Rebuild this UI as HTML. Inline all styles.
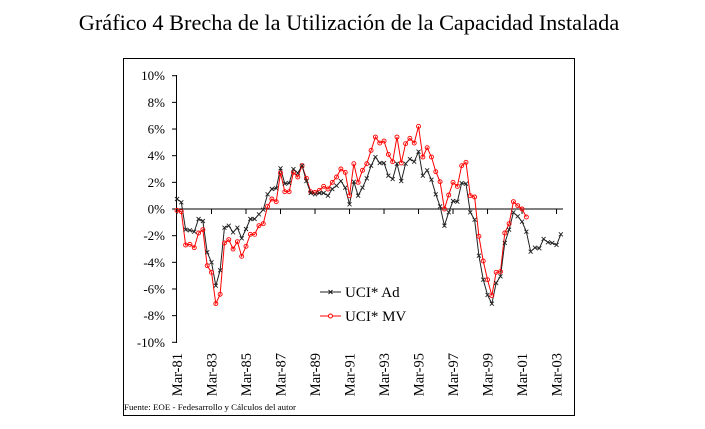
<!DOCTYPE html>
<html><head><meta charset="utf-8"><style>
body{margin:0;background:#fff;width:705px;height:429px;overflow:hidden}
svg{display:block;font-family:"Liberation Serif",serif}
</style></head><body>
<svg id="s" width="705" height="429" xmlns="http://www.w3.org/2000/svg">
<text x="349" y="30" font-size="22.3" text-anchor="middle">Gráfico 4 Brecha de la Utilización de la Capacidad Instalada</text>
<rect x="123.5" y="58.5" width="451" height="357" fill="none" stroke="#000" stroke-width="1"/>
<g id="g"></g>
<text x="124" y="410" font-size="8.5" textLength="172" lengthAdjust="spacingAndGlyphs">Fuente: EOE - Fedesarrollo y Cálculos del autor</text>
</svg>
<script>
const ad=[0.75,0.5,-1.55,-1.6,-1.7,-0.75,-0.9,-3.25,-4,-5.75,-4.6,-1.4,-1.25,-1.75,-1.4,-2.2,-1.5,-0.75,-0.75,-0.4,-0.05,1.1,1.5,1.55,3.05,1.9,1.95,3.0,2.7,3.25,2.1,1.2,1.1,1.2,1.2,1.0,1.5,1.75,2.1,1.6,0.35,2.05,1.0,1.6,2.3,3.25,3.9,3.45,3.45,2.5,2.25,3.4,2.1,3.4,3.75,3.55,4.3,2.5,2.9,2.2,1.1,0.2,-1.25,-0.25,0.6,0.55,1.95,1.9,-0.25,-0.8,-3.5,-5.3,-6.45,-7.1,-5.55,-5.05,-2.55,-1.55,-0.25,-0.55,-0.95,-1.7,-3.2,-2.9,-2.95,-2.25,-2.5,-2.55,-2.7,-1.9];
const mv=[-0.1,-0.2,-2.7,-2.65,-2.9,-1.8,-1.55,-4.25,-4.75,-7.1,-6.4,-2.55,-2.3,-3.0,-2.45,-3.55,-2.8,-1.9,-1.9,-1.25,-1.1,0.2,0.75,0.55,2.7,1.3,1.3,2.75,2.4,3.25,2.3,1.3,1.25,1.4,1.7,1.5,2.0,2.4,3.0,2.75,1.0,3.4,2.0,2.9,3.4,4.4,5.4,4.95,5.1,4.1,3.55,5.4,3.45,4.9,5.3,4.95,6.2,3.9,4.6,3.9,2.8,2.05,0,1.05,2.0,1.7,3.25,3.5,1.0,0.9,-2.05,-3.9,-5.3,-6.5,-4.75,-4.7,-1.8,-1.1,0.55,0.25,0,-0.6];
const X=q=>177+q*4.313, Y=v=>209-v*13.33;
let h='';
h+='<line x1="176.5" y1="75" x2="176.5" y2="343" stroke="#000"/>';
for(let i=-10;i<=10;i+=2){const y=Y(i);h+=`<line x1="172" y1="${y}" x2="177" y2="${y}" stroke="#000"/><text x="165" y="${y+4.5}" font-size="13" text-anchor="end">${i}%</text>`;}
h+='<line x1="177" y1="209" x2="563" y2="209" stroke="#000"/>';
const yrs=['81','83','85','87','89','91','93','95','97','99','01','03'];
yrs.forEach((t,i)=>{const x=X(i*8);h+=`<line x1="${x}" y1="209" x2="${x}" y2="214" stroke="#000"/><text transform="translate(${x+5},353) rotate(-90)" font-size="14.5" text-anchor="end">Mar-${t}</text>`;});
h+=`<polyline fill="none" stroke="#f00" stroke-width="1" points="${mv.map((v,i)=>X(i)+','+Y(v)).join(' ')}"/>`;
h+=`<polyline fill="none" stroke="#222" stroke-width="1" points="${ad.map((v,i)=>X(i)+','+Y(v)).join(' ')}"/>`;
mv.forEach((v,i)=>{h+=`<circle cx="${X(i)}" cy="${Y(v)}" r="2" fill="none" stroke="#f00" stroke-width="0.9"/>`;});
ad.forEach((v,i)=>{const x=X(i),y=Y(v);h+=`<path d="M${x-2},${y-2}L${x+2},${y+2}M${x-2},${y+2}L${x+2},${y-2}" stroke="#222" stroke-width="0.9"/>`;});
h+='<line x1="320" y1="292" x2="341" y2="292" stroke="#222"/><path d="M328.5,290L332.5,294M328.5,294L332.5,290" stroke="#222"/><text x="345" y="297" font-size="15">UCI* Ad</text>';
h+='<line x1="320" y1="316" x2="341" y2="316" stroke="#f00"/><circle cx="330.5" cy="316" r="2" fill="#fff" stroke="#f00"/><text x="345" y="321" font-size="15">UCI* MV</text>';
document.getElementById('g').innerHTML=h;
</script>
</body></html>
